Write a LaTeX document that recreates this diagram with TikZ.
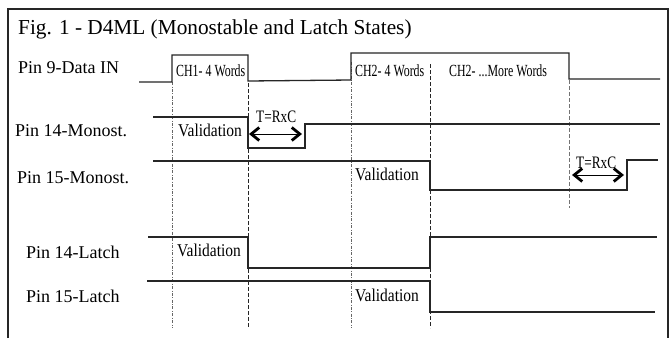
\documentclass[tikz,border=0pt]{standalone}
\usepackage{fontspec}
\setmainfont{Liberation Serif}
\newfontfamily\chfont[FakeStretch=0.7]{Liberation Serif}
\newfontfamily\valfont[FakeStretch=0.86]{Liberation Serif}
\newfontfamily\tfont[FakeStretch=0.76]{Liberation Serif}
\usetikzlibrary{arrows.meta}
\begin{document}
\begin{tikzpicture}[x=1pt,y=-1pt,
  frame/.style={line width=1.6pt,draw=black!85},
  sig/.style={line width=1.3pt,draw=black!85},
  pinlbl/.style={anchor=base west,inner sep=0pt,font=\fontsize{18}{20}\selectfont},
  chlbl/.style={anchor=base west,inner sep=0pt,font=\chfont\fontsize{17}{19}\selectfont},
  vallbl/.style={anchor=base west,inner sep=0pt,font=\valfont\fontsize{18}{20}\selectfont},
  tlbl/.style={anchor=base west,inner sep=0pt,font=\tfont\fontsize{17.5}{19}\selectfont},
  dashdot/.style={line width=0.7pt,draw=black!60,dash pattern=on 3pt off 1.5pt on 0.8pt off 1.5pt},
  dashln/.style={line width=0.7pt,draw=black!85,dash pattern=on 4pt off 2pt},
  dashgray/.style={line width=0.7pt,draw=black!55,dash pattern=on 4pt off 2pt},
  tarrow/.style={line width=0.8pt,draw=black,
    {Straight Barb[line width=2.8pt,length=8pt,width=13pt]}-{Straight Barb[line width=2.8pt,length=8pt,width=13pt]}}
]
\useasboundingbox (0,0) rectangle (671,338);
\fill[white] (0,0) rectangle (671,338);
% frame
\draw[frame] (8,338) -- (8,9) -- (668,9) -- (668,338);
% title
\node[anchor=base west,inner sep=0pt,font=\fontsize{21.3}{24}\selectfont] (title) at (18,34) {Fig. 1 - D4ML (Monostable and Latch States)};
% pin labels
\node[pinlbl] (p9) at (18,73) {Pin 9-Data IN};
\node[pinlbl] (p14m) at (15,136) {Pin 14-Monost.};
\node[pinlbl] (p15m) at (17,183) {Pin 15-Monost.};
\node[pinlbl] (p14l) at (26,258) {Pin 14-Latch};
\node[pinlbl] (p15l) at (26,302) {Pin 15-Latch};
% vertical reference lines
\coordinate (v1t) at (172,82); \coordinate (v1b) at (172,328);
\coordinate (v2t) at (248,83); \coordinate (v2b) at (248,328);
\coordinate (v3t) at (351,62); \coordinate (v3b) at (351,328);
\coordinate (v4t) at (430,64); \coordinate (v4b) at (430,328);
\coordinate (v5t) at (569,80); \coordinate (v5b) at (569,208);
\draw[dashdot] (v1t) -- (v1b);
\draw[dashln] (v2t) -- (v2b);
\draw[dashdot] (v3t) -- (v3b);
\draw[dashln] (v4t) -- (v4b);
\draw[dashgray] (v5t) -- (v5b);
% Pin 9 signal
\draw[sig] (139,82) -- (172,82) -- (172,55) -- (248,55) -- (248,81) -- (351,80) -- (351,53) -- (569,53) -- (569,79) -- (660,79);
\node[chlbl] (ch1) at (176,76) {CH1- 4 Words};
\node[chlbl] (ch2a) at (355,76) {CH2- 4 Words};
\node[chlbl] (ch2b) at (449,76) {CH2- ...More Words};
% Pin 14 Monost
\draw[sig] (153,117) -- (248,117) -- (248,148) -- (305,148) -- (305,124) -- (660,124);
\node[vallbl] (val1) at (178,136) {Validation};
\node[tlbl] (t1) at (256,122) {T=RxC};
\coordinate (a1l) at (249,134); \coordinate (a1r) at (302,134);
\draw[tarrow] (a1l) -- (a1r);
% Pin 15 Monost
\draw[sig] (153,161) -- (430,161) -- (430,190) -- (627,190) -- (627,160) -- (658,160);
\node[vallbl] (val2) at (355,180) {Validation};
\node[tlbl] (t2) at (576,168) {T=RxC};
\coordinate (a2l) at (572,175); \coordinate (a2r) at (624,175);
\draw[tarrow] (a2l) -- (a2r);
% Pin 14 Latch
\draw[sig] (148,237) -- (248,237) -- (248,268) -- (430,268) -- (430,237) -- (657,237);
\node[vallbl] (val3) at (177,256) {Validation};
% Pin 15 Latch
\draw[sig] (147,281) -- (430,281) -- (430,312) -- (655,312);
\node[vallbl] (val4) at (355,301) {Validation};
\end{tikzpicture}
\end{document}
